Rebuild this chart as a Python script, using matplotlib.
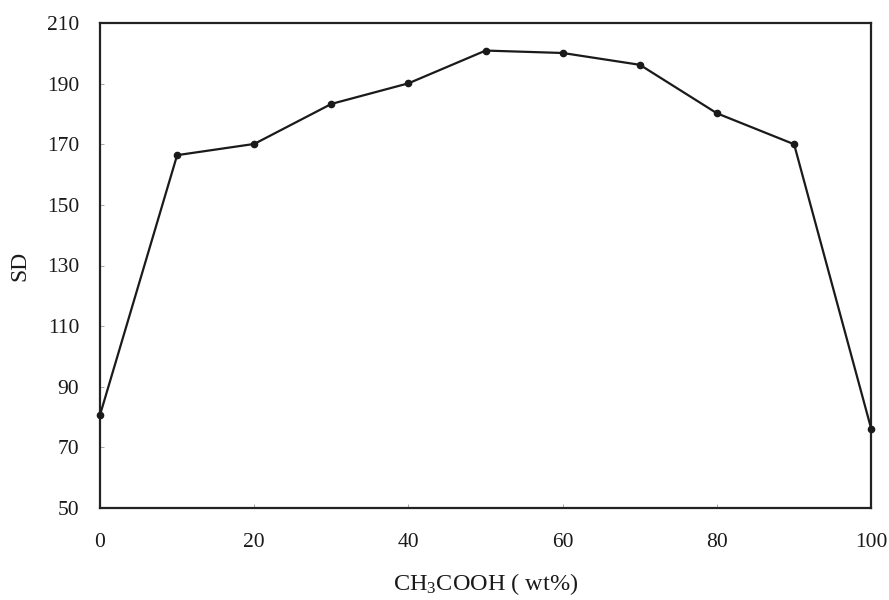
import matplotlib
matplotlib.use("Agg")
import matplotlib.pyplot as plt

x_vals = [0, 10, 20, 30, 40, 50, 60, 70, 80, 90, 100]
sd_vals = [80.7, 166.4, 170.1, 183.3, 190.1, 200.9, 200.1, 196.2, 180.2, 170.0, 76.1]
x_ticks = [0, 20, 40, 60, 80, 100]
y_ticks = [50, 70, 90, 110, 130, 150, 170, 190, 210]

plt.rcParams['font.family'] = ['Liberation Serif', 'DejaVu Serif']
plt.rcParams['mathtext.fontset'] = 'custom'
plt.rcParams['mathtext.rm'] = 'Liberation Serif'
plt.rcParams['mathtext.it'] = 'Liberation Serif:italic'

fig = plt.figure(figsize=(8.89, 6.0), dpi=100)
ax = fig.add_axes([0.1125, 0.1533, 0.8675, 0.8084])

ax.plot(x_vals, sd_vals, color='#1a1a1a', linewidth=1.6, marker='o', markersize=4.5, clip_on=False, zorder=3)

ax.set_xlim(0, 100)
ax.set_ylim(50, 210)
ax.set_xticks(x_ticks)
ax.set_yticks(y_ticks)
ax.tick_params(direction='in', length=3, width=0.6, color='#999999', labelsize=15.5, labelcolor='#1a1a1a')
ax.tick_params(axis='x', pad=18)
ax.tick_params(axis='y', pad=15)
for s in ax.spines.values():
    s.set_linewidth(1.6)
    s.set_color('#222222')

ax.set_xlabel(r'CH$_3$COOH ( wt%)', fontsize=17.5, labelpad=14, color='#1a1a1a')
ax.set_ylabel('SD', fontsize=17, labelpad=12, color='#1a1a1a')

fig.savefig('out.png', dpi=100)
